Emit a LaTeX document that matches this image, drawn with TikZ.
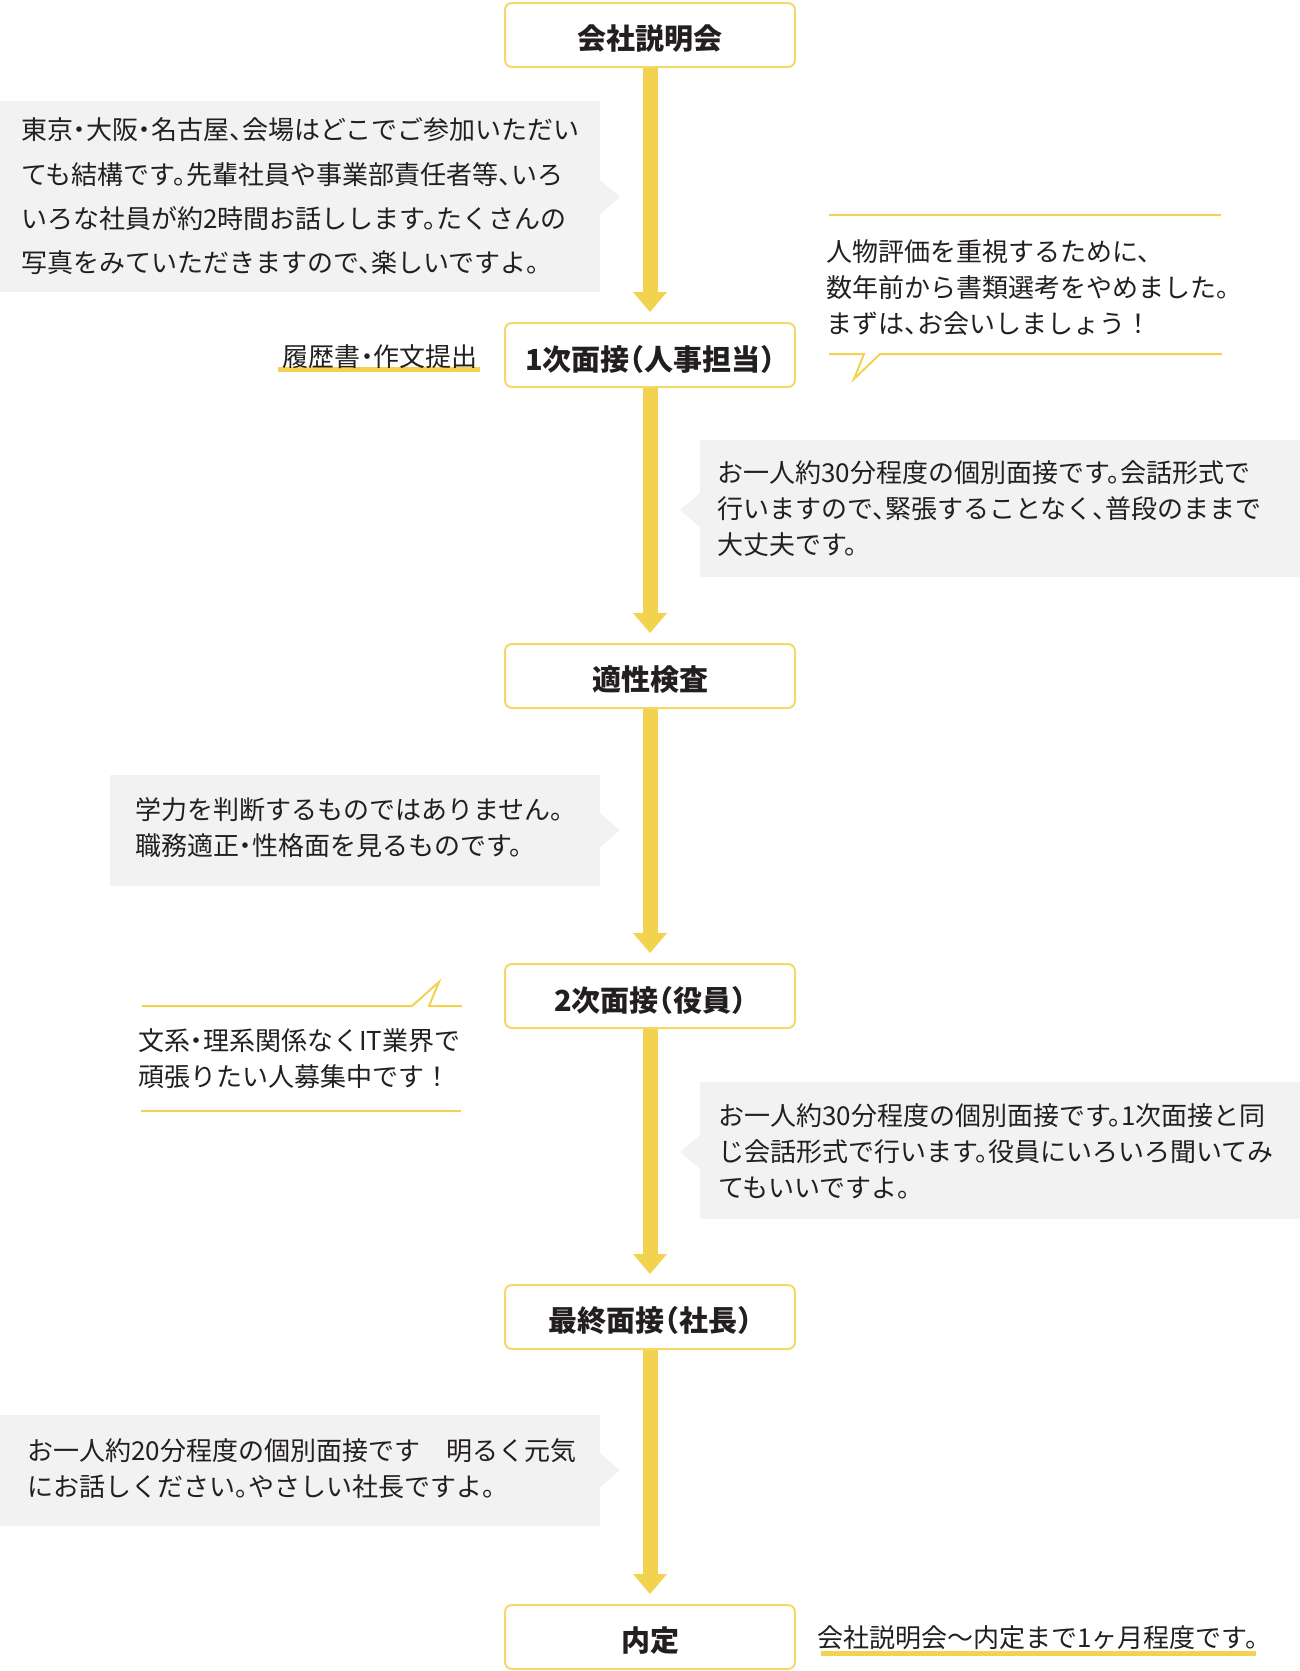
\documentclass[tikz,border=0pt]{standalone}
\usepackage{fontspec}
\setmainfont{Noto Sans CJK JP}[RawFeature=+halt]
\newfontfamily\fullw{Noto Sans CJK JP}
\definecolor{ylw}{HTML}{F3D250}
\definecolor{ylwb}{HTML}{F5D868}
\definecolor{gry}{HTML}{F2F2F2}
\definecolor{txt}{HTML}{231F20}
\tikzset{
  stepbox/.style={rectangle, rounded corners=7pt, draw=ylwb, line width=2pt, fill=white,
    minimum width=290pt, minimum height=64pt, inner sep=0pt, text=txt,
    font=\fontsize{29}{34}\selectfont\bfseries},
  steplabel/.style={inner sep=0pt, text=txt, font=\fontsize{29}{34}\selectfont\bfseries},
  body/.style={anchor=west, align=left, inner sep=0pt, text=txt, font=\fontsize{26}{36}\selectfont},
  flowline/.style={draw=ylw, line width=15pt},
  headtip/.style={fill=ylw},
  panel/.style={fill=gry},
  rulel/.style={draw=ylw, line width=2pt},
  uline/.style={draw=ylw, line width=5pt}
}
\begin{document}
\begin{tikzpicture}[x=1pt,y=-1pt]
\useasboundingbox (0,0) rectangle (1300,1671);

% grey panels with pointers
\fill[panel] (0,101) rectangle (600,292);
\fill[panel] (600,180) -- (620,197) -- (600,214) -- cycle;
\fill[panel] (700,440) rectangle (1300,577);
\fill[panel] (700,493) -- (680,510) -- (700,527) -- cycle;
\fill[panel] (110,775) rectangle (600,886);
\fill[panel] (600,813) -- (620,830) -- (600,847) -- cycle;
\fill[panel] (700,1082) rectangle (1300,1219);
\fill[panel] (700,1135) -- (680,1152) -- (700,1169) -- cycle;
\fill[panel] (0,1415) rectangle (600,1526);
\fill[panel] (600,1453) -- (620,1470) -- (600,1487) -- cycle;

% step boxes
\node[stepbox] (s1) at (650,35) {};
\node[stepbox] (s2) at (650,355) {};
\node[stepbox] (s3) at (650,676) {};
\node[stepbox] (s4) at (650,996) {};
\node[stepbox] (s5) at (650,1317) {};
\node[stepbox] (s6) at (650,1637) {};
\node[steplabel] (l1) at ([yshift=-4pt]s1.center) {会社説明会};
\node[steplabel] (l2) at ([yshift=-4pt]s2.center) {1次面接（人事担当）};
\node[steplabel] (l3) at ([yshift=-4pt]s3.center) {適性検査};
\node[steplabel] (l4) at ([yshift=-4pt]s4.center) {2次面接（役員）};
\node[steplabel] (l5) at ([yshift=-4pt]s5.center) {最終面接（社長）};
\node[steplabel] (l6) at ([yshift=-4pt]s6.center) {内定};

% arrows
\foreach \a/\b in {s1/s2,s2/s3,s3/s4,s4/s5,s5/s6}{
  \draw[flowline] (\a.south) -- ([yshift=29pt]\b.north);
  \fill[headtip] ([xshift=-17pt,yshift=30pt]\b.north) -- ([xshift=17pt,yshift=30pt]\b.north)
     -- ([yshift=10pt]\b.north) -- cycle;
}

% panel texts
\node[body, font=\fontsize{26}{44.3}\selectfont] (tA) at (21,196.5) {東京・大阪・名古屋、会場はどこでご参加いただい\\ても結構です。先輩社員や事業部責任者等、いろ\\いろな社員が約2時間お話しします。たくさんの\\写真をみていただきますので、楽しいですよ。};
\node[body] (tB) at (717,509) {お一人約30分程度の個別面接です。会話形式で\\行いますので、緊張することなく、普段のままで\\大丈夫です。};
\node[body] (tC) at (135,828) {学力を判断するものではありません。\\職務適正・性格面を見るものです。};
\node[body] (tD) at (718,1151) {お一人約30分程度の個別面接です。1次面接と同\\じ会話形式で行います。役員にいろいろ聞いてみ\\てもいいですよ。};
\node[body] (tE) at (27,1469) {お一人約20分程度の個別面接です　明るく元気\\にお話しください。やさしい社長ですよ。};

% speech callouts
\draw[rulel] (829,215) -- (1221,215);
\draw[rulel, line join=miter] (829,354) -- (864,354) -- (854,379) -- (880,354) -- (1222,354);
\node[body] (tF) at (826,287.5) {人物評価を重視するために、\\数年前から書類選考をやめました。\\まずは、お会いしましょう{\fullw ！}};

\draw[rulel, line join=miter] (142,1006) -- (412,1006) -- (439,982) -- (429,1006) -- (462,1006);
\draw[rulel] (141,1111) -- (461,1111);
\node[body] (tG) at (138,1059) {文系・理系関係なくIT業界で\\頑張りたい人募集中です{\fullw ！}};

% underlined notes
\draw[uline] (278,369) -- (480,369);
\node[body, anchor=east] (tH) at (478,357) {履歴書・作文提出};
\draw[uline] (821,1653) -- (1256,1653);
\node[body] (tI) at (817,1638) {会社説明会～内定まで1ヶ月程度です。};
\end{tikzpicture}
\end{document}
